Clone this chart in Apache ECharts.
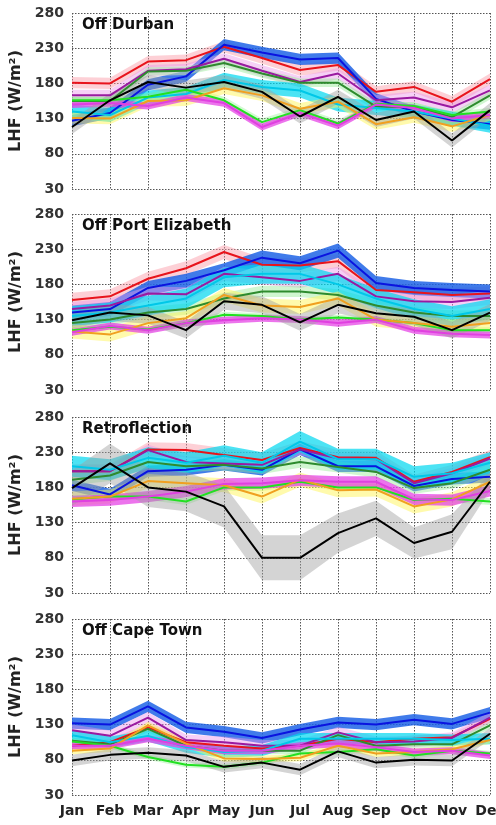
<!DOCTYPE html>
<html>
<head>
<meta charset="utf-8">
<script src="https://cdn.jsdelivr.net/npm/echarts@6/dist/echarts.min.js"></script>
<style>html,body{margin:0;padding:0;background:#fff;}#c{width:496px;height:825px;}</style>
</head>
<body>
<div id="c"></div>
<script>
const months = ['Jan','Feb','Mar','Apr','May','Jun','Jul','Aug','Sep','Oct','Nov','Dec'];
const yTicks = [30, 80, 130, 180, 230, 280];
const panelTitles = ['Off Durban', 'Off Port Elizabeth', 'Retroflection', 'Off Cape Town'];
const seriesNames = ['red', 'blue', 'purple', 'darkgreen', 'cyan', 'lime', 'orange', 'magenta', 'black'];

// Panel 1: Off Durban
const durbanRed       = [181,180,211,213,232,216,199,206,168,175,154,186];
const durbanBlue      = [127,138,178,190,235,224,214,216,158,140,128,122];
const durbanPurple    = [163,163,198,200,215,198,182,194,156,160,146,170];
const durbanDarkgreen = [155,155,197,198,209,194,181,181,147,147,132,163];
const durbanCyan      = [140,135,160,165,185,175,170,150,145,140,130,120];
const durbanLime      = [156,156,161,171,156,125,142,123,151,148,135,140];
const durbanOrange    = [131,130,155,156,173,163,144,154,122,132,119,135];
const durbanMagenta   = [150,152,148,160,152,118,138,120,150,145,130,135];
const durbanBlack     = [118,156,182,174,182,168,133,161,128,140,99,142];
const durbanSpread    = [8, 8, 8, 6, 10, 5, 8, 5, 10];

// Panel 2: Off Port Elizabeth
const portRed       = [158,163,188,203,226,208,207,213,172,169,165,167];
const portBlue      = [140,145,175,185,200,218,210,228,182,175,172,170];
const portPurple    = [145,150,167,166,195,190,185,195,163,156,155,161];
const portDarkgreen = [125,130,140,145,160,170,170,165,150,140,135,135];
const portCyan      = [135,140,150,160,190,195,195,180,160,145,135,145];
const portLime      = [115,120,116,125,137,135,130,133,130,125,115,115];
const portOrange    = [113,109,125,132,165,150,148,160,130,125,120,125];
const portMagenta   = [112,121,115,125,129,132,130,125,130,115,110,108];
const portBlack     = [129,140,136,115,156,151,126,151,139,134,115,140];
const portSpread    = [10, 10, 10, 8, 14, 4, 10, 5, 12];

// Panel 3: Retroflection
const retroRed       = [203,203,234,233,226,219,236,223,222,188,202,223];
const retroBlue      = [183,170,203,205,212,205,234,210,210,182,192,195];
const retroPurple    = [203,203,233,216,214,212,234,221,220,186,200,221];
const retroDarkgreen = [191,197,216,210,212,207,216,209,202,179,186,205];
const retroCyan      = [210,205,222,215,225,215,245,220,220,195,200,215];
const retroLime      = [163,167,167,160,180,180,188,180,180,162,164,160];
const retroOrange    = [164,167,189,186,183,167,191,176,177,153,163,188];
const retroMagenta   = [160,162,167,174,185,186,190,188,188,163,162,175];
const retroBlack     = [179,214,180,174,153,80,80,115,136,101,117,188];
const retroSpread    = [10, 8, 8, 8, 15, 5, 10, 8, 25];
const retroBlackSpread = [25,28,28,28,30,32,32,28,25,22,25,12];

// Panel 4: Off Cape Town
const capeRed       = [100,105,126,105,100,96,100,110,105,110,112,138];
const capeBlue      = [132,130,156,126,120,111,123,133,130,137,131,147];
const capePurple    = [122,114,140,108,105,100,100,119,105,106,111,140];
const capeDarkgreen = [107,102,124,100,93,93,93,115,100,102,102,129];
const capeCyan      = [115,105,114,98,91,93,110,110,110,110,108,110];
const capeLime      = [106,100,84,73,70,76,89,91,95,86,93,89];
const capeOrange    = [93,96,129,103,82,81,83,100,89,91,95,108];
const capeMagenta   = [100,100,110,100,93,93,100,103,98,91,93,86];
const capeBlack     = [79,87,90,86,70,76,66,92,76,80,79,117];
const capeSpread    = [5, 8, 8, 5, 8, 4, 5, 5, 8];

const panels = [
  [durbanRed, durbanBlue, durbanPurple, durbanDarkgreen, durbanCyan, durbanLime, durbanOrange, durbanMagenta, durbanBlack],
  [portRed, portBlue, portPurple, portDarkgreen, portCyan, portLime, portOrange, portMagenta, portBlack],
  [retroRed, retroBlue, retroPurple, retroDarkgreen, retroCyan, retroLime, retroOrange, retroMagenta, retroBlack],
  [capeRed, capeBlue, capePurple, capeDarkgreen, capeCyan, capeLime, capeOrange, capeMagenta, capeBlack]
];
const spreads = [durbanSpread, portSpread, retroSpread, capeSpread];

const lineColors = {
  red: '#e8141c', blue: '#0a14e0', purple: '#9a1aa0', darkgreen: '#2e8b2e', cyan: '#00c8e8',
  lime: '#22e022', orange: '#f0a020', magenta: '#e040e0', black: '#000000'
};
const bandColors = {
  red: 'rgba(250,150,165,0.45)', blue: 'rgba(30,100,230,0.85)', purple: 'rgba(235,150,235,0.45)',
  darkgreen: 'rgba(150,235,150,0.45)', cyan: 'rgba(0,215,240,0.7)', lime: 'rgba(130,240,130,0.35)',
  orange: 'rgba(255,245,90,0.5)', magenta: 'rgba(230,70,230,0.75)', black: 'rgba(160,160,160,0.45)'
};

const tops = [13, 214, 417, 619];
const grids = [], xAxes = [], yAxes = [], series = [], titles = [];
const fontFam = 'DejaVu Sans';

panels.forEach((panel, p) => {
  grids.push({ left: 72, right: 6, top: tops[p], height: 176, show: false, containLabel: false, outerBoundsMode: 'none' });
  xAxes.push({
    type: 'category', gridIndex: p, data: months, boundaryGap: false,
    axisLine: { show: false }, axisTick: { show: false },
    axisLabel: { show: p === 3, fontFamily: fontFam, fontWeight: 'bold', fontSize: 14, color: '#222', margin: 9, interval: 0 },
    splitLine: { show: true, interval: 0, lineStyle: { color: '#555', width: 1, type: [1.5, 1.5] } }
  });
  yAxes.push({
    type: 'value', gridIndex: p, min: yTicks[0], max: yTicks[yTicks.length - 1], interval: yTicks[1] - yTicks[0],
    name: 'LHF (W/m²)', nameLocation: 'middle', nameGap: 41,
    nameTextStyle: { fontFamily: fontFam, fontWeight: 'bold', fontSize: 16, color: '#222' },
    axisLine: { show: false }, axisTick: { show: false },
    axisLabel: { fontFamily: fontFam, fontWeight: 'bold', fontSize: 14, color: '#333', margin: 8 },
    splitLine: { show: true, lineStyle: { color: '#555', width: 1, type: [1.5, 1.5] } }
  });
  titles.push({
    text: panelTitles[p], left: 82, top: tops[p] + 5, padding: 0,
    textStyle: { fontFamily: fontFam, fontWeight: 'bold', fontSize: 15, color: '#111' }
  });
  panel.forEach((vals, s) => {
    const name = seriesNames[s];
    const sp = (p === 2 && name === 'black') ? retroBlackSpread : vals.map(() => spreads[p][s]);
    const lower = vals.map((v, i) => v - sp[i]);
    const width = vals.map((v, i) => 2 * sp[i]);
    const key = 'band' + p + '_' + s;
    series.push({
      type: 'line', xAxisIndex: p, yAxisIndex: p, data: lower, stack: key, symbol: 'none', silent: true,
      lineStyle: { opacity: 0 }
    });
    series.push({
      type: 'line', xAxisIndex: p, yAxisIndex: p, data: width, stack: key, symbol: 'none', silent: true,
      lineStyle: { opacity: 0 }, areaStyle: { color: bandColors[name], opacity: 1 }
    });
    series.push({
      type: 'line', xAxisIndex: p, yAxisIndex: p, data: vals, symbol: 'none', silent: true,
      lineStyle: { color: lineColors[name], width: 2 }
    });
  });
});

const chart = echarts.init(document.getElementById('c'), null, { renderer: 'canvas' });
chart.setOption({
  animation: false,
  title: titles,
  grid: grids,
  xAxis: xAxes,
  yAxis: yAxes,
  series: series
});
</script>
</body>
</html>
